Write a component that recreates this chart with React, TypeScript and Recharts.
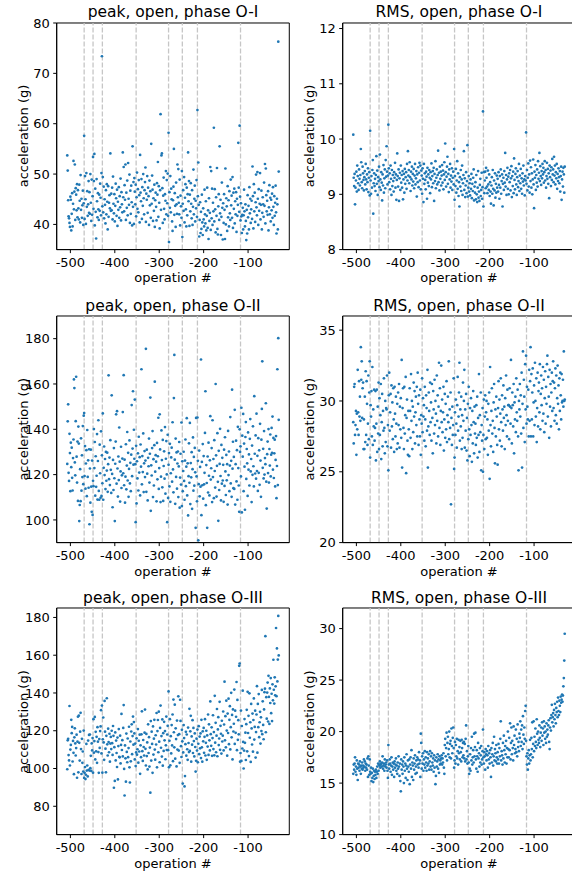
import React from 'react';
import { ScatterChart, Scatter, XAxis, YAxis, ReferenceLine, ReferenceArea } from 'recharts';

// operation numbers run consecutively from FIRST_OP, one reading per operation
const FIRST_OP = -507;
const X_DOMAIN = [-530.8, -7.2];
const X_TICKS = [-500, -400, -300, -200, -100];
// dashed markers (maintenance events)
const EVENT_OPS = [-469, -449, -428, -352, -279, -248, -214, -117];

const peakO1 = [
  53.7, 50.7, 44.8, 41.6, 41.2, 40.3, 39.5, 45.5, 44.9, 38.8, 42.1, 46.2, 39.6, 44.1, 52.6, 43.0, 46.5, 51.9, 40.9, 47.2, 45.9, 42.8, 48.0, 41.4, 46.8,
  43.2, 41.0, 47.9, 44.7, 40.4, 49.8, 42.9, 45.1, 41.3, 43.8, 46.7, 39.9, 44.2, 57.6, 41.1, 49.6, 45.0, 40.1, 50.2, 43.5, 46.6, 41.7, 44.0, 48.6, 42.3,
  46.4, 42.1, 50.0, 44.3, 40.7, 48.9, 41.9, 45.6, 53.4, 43.1, 48.6, 54.0, 39.8, 47.1, 42.5, 37.2, 49.0, 44.6, 41.4, 46.2, 43.0, 40.9, 45.9, 42.7, 48.1,
  45.3, 41.8, 50.2, 73.4, 43.6, 49.4, 42.4, 47.5, 41.2, 45.0, 43.9, 40.2, 46.8, 42.0, 48.0, 44.5, 39.0, 47.6, 41.5, 44.3, 45.8, 43.2, 54.1, 42.7, 46.1,
  42.8, 47.3, 41.0, 49.5, 44.1, 42.2, 46.0, 40.6, 43.7, 48.1, 45.2, 41.7, 46.9, 39.7, 44.5, 42.9, 47.4, 41.3, 45.6, 43.4, 49.1, 40.8, 46.4, 44.0, 42.4,
  54.3, 45.4, 51.4, 42.6, 47.8, 44.9, 51.9, 40.9, 46.3, 43.3, 48.7, 41.8, 52.2, 45.1, 43.9, 49.9, 40.3, 46.7, 42.1, 47.7, 44.4, 39.8, 55.5, 43.5, 48.4,
  40.1, 49.2, 46.5, 44.0, 47.9, 41.6, 45.4, 50.3, 43.1, 47.0, 42.4, 48.8, 45.8, 40.4, 53.8, 46.3, 44.6, 49.0, 41.1, 47.4, 43.7, 50.0, 45.2, 42.0, 46.8,
  48.4, 51.3, 40.5, 46.1, 44.9, 49.6, 42.3, 47.3, 45.6, 39.9, 48.7, 43.8, 46.6, 41.3, 56.0, 44.1, 49.7, 46.9, 40.7, 45.2, 42.7, 47.9, 39.5, 44.8, 46.3,
  43.5, 40.8, 48.2, 45.9, 52.4, 41.5, 47.6, 44.3, 39.2, 46.8, 61.9, 42.9, 53.7, 54.1, 47.2, 40.3, 45.7, 49.3, 43.1, 41.0, 46.0, 44.7, 50.6, 42.0, 48.8,
  44.2, 50.1, 41.7, 58.2, 36.5, 46.4, 43.3, 49.6, 42.4, 47.1, 45.0, 40.6, 38.7, 44.8, 47.5, 55.0, 41.9, 46.2, 43.7, 39.5, 48.3, 44.0, 42.1, 51.9, 45.4,
  51.0, 44.3, 42.0, 48.9, 39.8, 45.7, 43.6, 41.3, 50.6, 37.5, 44.1, 46.8, 42.7, 49.4, 40.4, 45.3, 48.0, 43.0, 39.6, 47.3, 41.8, 46.0, 54.3, 44.6, 48.6,
  39.7, 45.9, 42.6, 48.2, 44.1, 41.2, 46.8, 39.9, 43.5, 50.9, 42.0, 45.1, 47.7, 40.6, 44.7, 43.2, 48.8, 41.5, 62.7, 45.6, 52.3, 43.9, 37.6, 40.9, 44.4,
  38.3, 42.5, 39.1, 45.9, 40.4, 37.9, 43.2, 41.0, 39.6, 46.9, 42.0, 40.2, 44.6, 38.8, 41.7, 47.3, 39.3, 42.8, 37.1, 45.2, 40.7, 42.3, 51.4, 38.9, 50.6,
  41.2, 47.1, 39.9, 44.3, 42.6, 59.2, 40.6, 47.0, 43.0, 38.4, 45.4, 41.7, 51.2, 39.1, 38.0, 43.6, 46.0, 40.9, 55.5, 42.2, 44.9, 37.9, 41.5, 48.3, 43.3,
  37.0, 44.2, 40.3, 46.0, 42.9, 37.1, 51.1, 40.0, 45.2, 43.6, 38.7, 47.6, 41.4, 44.8, 39.6, 46.6, 42.2, 40.9, 48.9, 43.8, 45.7, 41.3, 49.4, 39.3, 46.3,
  43.1, 47.1, 40.2, 44.6, 42.0, 46.4, 38.5, 45.1, 41.7, 43.9, 56.2, 47.3, 42.5, 59.6, 45.5, 40.8, 44.2, 41.6, 38.3, 41.9, 43.3, 39.0, 41.8, 46.9, 42.6,
  39.6, 44.0, 40.7, 36.9, 42.9, 38.2, 45.8, 41.4, 43.7, 39.0, 47.4, 42.2, 45.1, 40.3, 43.0, 44.7, 41.1, 51.5, 45.6, 39.2, 48.0, 42.6, 46.3, 40.5, 44.4,
  49.9, 43.4, 41.8, 50.4, 45.1, 39.9, 47.0, 42.7, 44.1, 50.2, 41.0, 43.9, 46.7, 39.0, 42.3, 45.4, 44.0, 41.5, 48.3, 43.7, 52.0, 40.2, 51.1, 45.8, 42.6,
  44.7, 41.9, 46.6, 38.8, 43.4, 47.8, 42.0, 45.3, 40.6, 44.9, 42.8, 46.1, 41.3, 47.4, 43.5, 39.9, 45.6, 41.7, 44.3, 47.7, 42.4, 38.2, 45.1, 44.0, 39.0,
  76.3, 50.5,
];

const rmsO1 = [
  10.08, 9.30, 9.15, 9.37, 8.82, 9.12, 9.25, 9.41, 9.05, 9.52, 9.33, 9.20, 9.08, 9.45, 9.28, 9.16, 9.35, 9.82, 9.58, 9.22, 9.11, 9.50, 9.38, 9.26, 9.07,
  9.31, 9.42, 9.18, 9.55, 9.27, 9.09, 9.36, 9.22, 9.47, 9.04, 9.30, 9.40, 8.98, 10.15, 9.25, 9.01, 9.33, 9.12, 9.44, 9.62, 8.65, 9.20, 9.38, 9.15, 9.28,
  9.06, 9.35, 9.69, 9.19, 9.43, 8.99, 9.31, 9.24, 9.50, 9.13, 9.72, 9.27, 9.08, 9.40, 9.21, 8.89, 9.36, 9.16, 9.53, 9.03, 9.29, 9.45, 9.11, 9.62, 9.32,
  9.87, 9.41, 9.18, 9.34, 10.26, 9.47, 9.22, 9.38, 9.09, 9.52, 9.28, 8.99, 9.44, 9.15, 9.35, 9.24, 9.05, 9.40, 9.30, 9.57, 9.12, 9.36, 8.90, 9.26, 9.74,
  9.33, 9.14, 9.45, 8.88, 9.29, 9.39, 9.08, 9.52, 9.21, 9.35, 9.12, 9.42, 8.91, 9.27, 9.37, 9.03, 9.46, 9.19, 9.31, 9.40, 9.10, 9.55, 9.25, 9.78, 9.34,
  9.44, 9.20, 9.58, 9.31, 9.06, 9.41, 9.27, 9.50, 9.16, 9.37, 9.23, 9.46, 9.11, 9.34, 9.55, 9.18, 9.29, 9.42, 8.96, 9.36, 9.22, 9.49, 9.13, 9.39, 9.57,
  9.25, 9.52, 9.09, 9.43, 9.34, 9.01, 9.47, 9.28, 8.86, 9.55, 9.19, 9.38, 9.26, 9.09, 9.41, 9.32, 8.92, 9.48, 9.21, 9.36, 9.15, 9.44, 9.30, 9.02, 9.40,
  9.27, 9.56, 9.13, 9.33, 9.42, 9.20, 9.48, 8.88, 9.37, 9.24, 9.60, 9.11, 9.30, 9.45, 9.18, 9.35, 9.79, 9.22, 9.39, 9.07, 9.50, 9.28, 9.41, 9.16, 9.34,
  9.53, 9.21, 9.43, 9.09, 9.36, 9.58, 9.26, 9.92, 9.40, 9.14, 9.32, 9.50, 9.68, 9.19, 9.37, 9.04, 9.45, 9.27, 9.55, 9.12, 9.34, 9.23, 9.47, 9.08, 9.30,
  9.41, 9.18, 9.82, 8.90, 9.33, 9.15, 9.46, 9.03, 9.25, 9.60, 9.10, 9.38, 8.97, 9.22, 8.78, 9.31, 9.14, 9.44, 9.06, 9.27, 9.52, 8.99, 9.20, 9.35, 9.78,
  9.08, 9.29, 8.95, 9.16, 9.40, 9.02, 9.24, 9.89, 8.96, 9.12, 9.33, 9.05, 9.20, 8.98, 9.27, 9.10, 9.37, 8.93, 9.19, 9.06, 9.30, 9.45, 8.89, 9.14, 9.03,
  9.22, 8.91, 9.35, 9.00, 8.86, 9.12, 9.42, 8.94, 9.05, 8.88, 9.17, 9.28, 8.97, 9.08, 9.39, 8.92, 9.13, 10.50, 8.78, 9.40, 9.02, 9.25, 9.41, 9.11, 9.48,
  9.30, 9.14, 9.02, 9.43, 9.18, 9.08, 9.36, 8.97, 9.22, 9.05, 8.83, 9.16, 9.31, 9.01, 9.44, 9.10, 8.80, 9.25, 9.07, 9.38, 8.94, 9.19, 9.03, 9.34, 9.12,
  9.28, 9.05, 9.40, 9.17, 8.92, 9.33, 9.12, 9.45, 9.01, 9.24, 9.36, 8.78, 9.19, 9.30, 9.08, 9.42, 9.21, 9.75, 9.14, 9.35, 8.99, 9.27, 9.48, 9.10, 9.32,
  9.00, 9.38, 9.22, 9.44, 9.07, 9.29, 9.51, 8.95, 9.33, 9.15, 9.41, 9.02, 9.65, 9.26, 9.09, 9.37, 9.47, 9.18, 8.99, 9.31, 9.42, 9.13, 9.24, 9.55, 9.06,
  9.34, 9.20, 9.46, 9.10, 9.29, 9.01, 9.38, 9.23, 9.52, 9.16, 9.27, 8.98, 9.33, 9.25, 10.12, 9.19, 9.44, 9.07, 9.30, 9.56, 9.14, 9.36, 9.03, 9.61, 9.24,
  9.49, 9.12, 9.38, 9.00, 9.27, 9.63, 9.18, 8.75, 9.41, 9.30, 9.53, 9.08, 9.35, 9.21, 9.45, 9.14, 9.60, 9.28, 9.39, 9.75, 9.24, 9.51, 9.33, 9.17, 9.42,
  9.29, 9.55, 9.36, 9.48, 9.21, 9.40, 9.60, 9.25, 9.44, 9.12, 9.33, 9.57, 9.28, 9.46, 9.19, 9.38, 8.93, 9.52, 9.31, 9.43, 9.15, 9.49, 9.26, 9.64, 9.36,
  9.45, 9.22, 9.68, 9.34, 9.52, 9.18, 9.40, 9.29, 9.55, 9.10, 9.37, 9.24, 9.47, 9.31, 9.20, 9.42, 9.05, 9.33, 9.50, 8.90, 9.27, 9.41, 9.14, 9.48, 9.36,
  9.03, 9.50,
];

const peakO2 = [
  124.7, 143.5, 151.0, 120.8, 117.2, 138.0, 129.5, 112.7, 134.1, 123.3, 131.9, 118.6, 113.0, 127.3, 135.5, 162.0, 158.2, 125.4, 119.7, 143.6, 163.2, 127.9, 116.5, 134.6, 108.4,
  141.2, 133.7, 99.5, 106.6, 122.4, 108.3, 136.0, 112.9, 128.5, 118.9, 141.4, 115.8, 146.0, 147.2, 119.4, 132.6, 113.8, 124.9, 130.8, 110.5, 139.7, 119.0, 126.3, 114.2, 131.2,
  98.1, 122.7, 107.6, 131.0, 114.7, 103.6, 126.2, 102.2, 117.3, 114.9, 140.1, 122.9, 134.4, 110.7, 128.1, 114.6, 119.5, 137.9, 109.0, 126.0, 144.0, 112.8, 108.9, 133.2, 120.6,
  109.8, 139.1, 110.6, 128.5, 116.2, 147.0, 108.9, 123.0, 132.4, 119.8, 126.9, 113.6, 130.0, 117.3, 121.8, 129.7, 112.4, 124.6, 163.8, 118.0, 127.5, 115.4, 135.2, 122.1, 111.9,
  155.0, 120.3, 105.6, 126.5, 113.2, 131.7, 118.4, 99.5, 124.8, 134.6, 146.6, 116.0, 148.0, 122.7, 110.3, 128.0, 117.6, 140.8, 125.7, 108.1, 121.4, 132.3, 114.1, 119.7, 127.1,
  147.6, 120.6, 163.9, 115.3, 126.6, 107.6, 119.1, 133.4, 113.5, 124.0, 138.8, 117.4, 129.6, 110.2, 122.5, 135.1, 116.1, 125.2, 112.7, 128.8, 150.7, 119.3, 131.5, 156.8, 124.4,
  139.8, 127.0, 153.1, 124.6, 99.0, 132.7, 107.3, 125.9, 118.3, 129.4, 113.0, 136.7, 120.9, 127.7, 110.8, 133.3, 123.5, 166.5, 115.7, 128.2, 121.1, 138.2, 112.3, 125.0, 130.4,
  118.9, 126.2, 175.5, 112.4, 131.0, 120.4, 108.6, 127.4, 123.7, 135.9, 116.5, 129.2, 154.0, 104.0, 124.1, 119.6, 131.7, 139.2, 110.1, 126.8, 115.2, 133.0, 161.0, 121.3, 128.6,
  125.7, 108.2, 134.0, 117.9, 128.1, 145.1, 113.7, 122.9, 146.6, 131.1, 107.9, 119.1, 139.5, 126.4, 114.4, 135.3, 108.4, 123.8, 130.3, 118.2, 141.0, 111.6, 127.0, 134.8, 120.1,
  99.0, 137.6, 109.7, 124.3, 129.5, 114.8, 133.6, 108.0, 120.6, 127.6, 131.9, 116.9, 143.1, 122.3, 112.2, 153.8, 172.8, 126.6, 107.1, 135.9, 119.0, 129.8, 113.8, 124.9, 130.2,
  110.1, 123.6, 134.4, 105.4, 118.7, 129.2, 115.6, 143.0, 106.1, 125.9, 112.7, 121.6, 130.1, 117.2, 108.9, 126.2, 135.5, 114.9, 123.5, 144.9, 110.8, 125.0, 102.0, 119.3, 133.8,
  116.4, 142.8, 107.0, 125.1, 118.8, 129.9, 104.9, 122.4, 136.4, 112.9, 127.8, 115.1, 131.8, 121.0, 96.5, 145.0, 119.2, 108.2, 145.2, 126.1, 91.0, 115.8, 130.6, 110.4, 123.4,
  114.7, 170.8, 102.1, 125.6, 115.3, 133.5, 109.4, 128.2, 115.7, 120.8, 138.4, 156.8, 106.5, 124.2, 116.3, 96.5, 128.0, 112.1, 134.1, 119.5, 110.8, 126.3, 145.8, 117.8, 122.8,
  131.7, 107.9, 144.0, 118.9, 126.9, 109.6, 135.2, 121.6, 114.3, 160.0, 128.5, 110.3, 123.9, 138.3, 116.8, 99.6, 130.5, 113.2, 124.7, 140.2, 119.4, 108.6, 133.1, 116.0, 127.4,
  117.4, 124.3, 108.0, 131.0, 115.0, 136.5, 121.4, 111.0, 128.7, 117.5, 124.6, 106.8, 139.3, 119.8, 130.2, 112.7, 124.0, 145.4, 116.1, 126.1, 110.2, 157.5, 122.6, 134.5, 114.0,
  127.8, 113.7, 148.6, 106.8, 124.6, 135.0, 117.0, 130.8, 108.9, 141.1, 122.9, 115.2, 103.6, 140.0, 130.0, 132.5, 119.2, 149.5, 103.3, 137.2, 127.9, 146.8, 112.7, 133.7, 123.5,
  104.5, 136.6, 143.2, 118.1, 131.3, 125.0, 110.6, 138.6, 122.2, 128.9, 115.2, 135.8, 144.5, 121.4, 126.9, 107.9, 132.8, 119.9, 141.3, 123.7, 114.8, 154.6, 129.2, 120.5, 137.3,
  118.2, 146.9, 121.6, 128.3, 112.8, 136.1, 120.8, 130.7, 115.5, 142.4, 126.2, 110.2, 135.4, 149.0, 170.0, 123.0, 131.4, 118.3, 139.2, 120.0, 127.3, 124.6, 151.5, 116.9, 105.0,
  129.0, 134.6, 120.7, 140.1, 116.5, 131.3, 124.0, 137.7, 119.2, 128.8, 140.6, 129.6, 145.6, 122.2, 136.2, 118.5, 129.4, 135.4, 114.8, 126.5, 137.0, 109.6, 123.8, 166.5, 115.4,
  180.2, 144.2,
];

const rmsO2 = [
  28.5, 27.0, 31.0, 31.2, 27.6, 28.3, 29.3, 26.2, 29.1, 28.0, 32.2, 29.2, 27.6, 31.4, 28.9, 30.3, 28.6, 33.8, 31.5, 32.8, 28.8, 30.9, 31.3, 26.6, 28.7,
  26.6, 30.3, 27.1, 32.1, 27.6, 31.4, 29.8, 26.9, 28.4, 31.8, 27.3, 30.6, 32.8, 26.0, 29.7, 28.9, 30.7, 27.5, 32.4, 26.9, 29.4, 28.2, 30.8, 27.2, 28.1,
  30.7, 25.8, 28.4, 30.8, 26.4, 29.6, 27.7, 31.3, 26.6, 30.2, 27.6, 29.0, 31.2, 25.9, 28.5, 30.5, 26.8, 29.3, 27.9, 31.6, 28.1, 26.3, 30.0, 27.1, 29.5,
  29.4, 31.8, 26.8, 28.3, 25.1, 30.4, 32.0, 27.9, 29.2, 30.5, 26.7, 31.1, 28.2, 29.9, 27.3, 30.9, 28.7, 26.4, 31.0, 29.1, 27.5, 30.3, 28.4, 26.6, 29.8,
  27.0, 30.6, 28.3, 31.2, 26.7, 29.6, 28.0, 30.2, 27.4, 32.9, 25.3, 29.5, 30.9, 28.1, 26.6, 31.0, 27.7, 29.0, 31.7, 24.9, 28.8, 30.1, 27.2, 26.2, 29.3,
  28.0, 26.1, 30.9, 29.3, 27.4, 31.9, 28.6, 30.0, 26.6, 29.6, 27.8, 31.3, 28.9, 30.7, 27.0, 29.2, 30.3, 28.3, 31.0, 27.5, 32.0, 29.8, 26.9, 30.4, 28.7,
  27.5, 30.8, 26.2, 29.0, 28.4, 31.6, 27.8, 30.2, 28.9, 29.7, 27.2, 31.0, 28.7, 26.8, 30.4, 29.5, 27.9, 32.2, 25.3, 28.2, 30.6, 29.3, 27.6, 31.3, 28.5,
  29.9, 27.2, 31.2, 28.8, 26.3, 30.7, 29.4, 27.7, 31.5, 28.3, 30.0, 29.1, 27.0, 31.8, 28.6, 30.4, 27.5, 29.6, 32.7, 28.1, 30.9, 26.9, 29.3, 32.5, 28.5,
  30.1, 27.8, 29.2, 31.0, 26.5, 28.7, 30.5, 27.4, 29.8, 28.0, 31.4, 27.1, 29.0, 30.3, 28.5, 32.8, 27.3, 29.4, 28.1, 30.6, 22.7, 28.8, 26.9, 29.6, 27.6,
  28.3, 31.6, 25.2, 26.0, 29.2, 27.6, 30.1, 28.4, 26.7, 29.7, 31.7, 27.9, 28.9, 30.6, 32.7, 27.2, 29.4, 28.2, 30.3, 26.6, 29.0, 27.4, 31.3, 28.6, 30.0,
  32.2, 26.7, 29.4, 27.9, 30.5, 26.5, 28.8, 25.8, 29.8, 27.3, 31.0, 28.0, 26.1, 29.5, 27.6, 30.2, 28.3, 25.7, 29.3, 27.0, 30.7, 28.5, 26.3, 29.6, 27.7,
  28.4, 26.9, 29.7, 27.4, 30.3, 26.0, 28.8, 27.6, 31.9, 26.4, 29.0, 27.8, 30.6, 25.1, 28.3, 27.2, 29.5, 25.0, 27.6, 30.1, 26.6, 28.9, 30.4, 27.3, 29.2,
  30.0, 27.4, 28.7, 26.2, 29.8, 27.9, 30.6, 24.5, 32.4, 28.3, 26.8, 29.3, 30.9, 27.7, 28.6, 26.4, 29.9, 31.2, 28.1, 25.6, 29.4, 27.5, 30.3, 28.9, 26.9,
  25.5, 29.5, 31.4, 28.0, 30.1, 27.2, 29.1, 31.6, 28.5, 26.8, 30.4, 29.4, 27.9, 31.1, 28.8, 29.6, 26.6, 30.2, 28.3, 31.8, 29.0, 27.5, 30.8, 28.6, 29.7,
  29.7, 27.3, 30.9, 29.6, 28.4, 32.9, 29.5, 27.0, 30.6, 29.7, 28.2, 31.2, 26.3, 29.9, 28.7, 30.3, 27.8, 31.6, 29.2, 28.6, 30.8, 27.5, 25.1, 30.0, 29.4,
  31.2, 28.9, 30.4, 27.7, 32.0, 25.3, 29.8, 33.5, 28.1, 31.5, 30.3, 27.1, 32.6, 29.4, 33.2, 28.4, 31.0, 29.6, 28.7, 30.8, 27.5, 32.2, 28.6, 31.4, 33.8,
  27.5, 31.9, 28.7, 30.6, 32.3, 27.5, 29.9, 31.1, 28.3, 32.7, 30.0, 28.9, 31.6, 27.1, 29.5, 32.0, 28.2, 30.7, 31.3, 29.2, 32.6, 28.0, 30.5, 31.8, 29.7,
  30.9, 28.6, 32.4, 29.1, 31.5, 27.8, 30.2, 32.1, 28.4, 31.0, 29.8, 32.6, 33.2, 28.9, 31.7, 30.3, 27.4, 32.2, 29.6, 31.2, 28.2, 30.6, 32.0, 29.3, 31.4,
  32.8, 29.5, 31.3, 28.6, 30.9, 32.3, 29.0, 31.8, 28.4, 30.2, 32.5, 29.8, 31.1, 28.0, 31.6, 29.3, 32.0, 30.4, 28.7, 31.9, 29.9, 30.0, 31.5, 29.6, 33.5,
  30.0, 30.1,
];

const peakO3 = [
  99.6, 114.9, 115.7, 107.1, 104.3, 133.1, 101.6, 110.0, 112.5, 125.8, 118.7, 122.0, 103.7, 114.6, 108.3, 97.0, 116.5, 121.3, 113.3, 106.9, 110.8, 117.9, 95.1, 114.2, 127.4,
  98.0, 128.0, 113.6, 104.2, 119.5, 129.5, 110.3, 97.1, 115.7, 103.0, 109.0, 98.4, 120.1, 95.0, 97.7, 100.8, 94.4, 96.7, 113.0, 98.9, 101.6, 95.8, 114.8, 99.3, 117.8,
  98.9, 118.0, 100.2, 106.7, 98.7, 113.3, 109.6, 116.1, 97.8, 126.1, 108.4, 114.5, 127.3, 104.8, 119.4, 109.1, 116.8, 103.0, 121.9, 114.2, 108.7, 97.7, 115.6, 110.9, 119.8,
  122.3, 130.9, 108.0, 133.3, 97.8, 115.5, 127.0, 113.8, 104.6, 135.8, 119.5, 110.5, 98.0, 117.3, 137.2, 112.8, 106.9, 121.1, 114.0, 108.6, 118.4, 103.6, 113.2, 116.7, 110.3,
  120.0, 113.4, 107.2, 122.5, 117.3, 89.8, 111.3, 93.4, 119.1, 104.3, 114.8, 108.2, 100.8, 116.4, 94.2, 111.9, 120.9, 106.2, 105.9, 117.4, 102.7, 112.5, 128.9, 109.8, 115.0,
  106.4, 121.5, 133.6, 99.8, 85.7, 112.2, 105.4, 93.0, 118.5, 108.8, 103.3, 115.9, 106.0, 110.8, 122.1, 100.6, 92.6, 114.3, 103.8, 119.6, 123.4, 107.6, 117.2, 127.5, 112.6,
  124.6, 118.6, 104.8, 113.2, 101.3, 108.5, 116.0, 107.3, 110.2, 120.9, 103.1, 114.7, 109.0, 117.9, 97.2, 112.3, 106.0, 118.1, 130.3, 109.2, 104.0, 115.1, 111.4, 106.9, 119.0,
  131.2, 110.4, 101.6, 118.3, 106.6, 113.8, 99.5, 123.4, 108.2, 116.6, 101.0, 111.1, 87.2, 125.1, 104.2, 119.5, 113.0, 97.7, 122.3, 107.4, 115.8, 125.8, 110.0, 104.7, 117.6,
  112.7, 129.4, 100.6, 119.8, 125.7, 108.6, 130.1, 114.2, 103.3, 121.5, 133.3, 111.0, 117.2, 106.3, 126.0, 101.5, 118.7, 109.3, 124.7, 114.9, 119.8, 104.9, 112.3, 127.5, 109.8,
  118.0, 122.6, 109.7, 140.8, 100.7, 114.7, 126.1, 101.7, 117.1, 108.0, 123.0, 112.2, 128.6, 103.9, 136.5, 119.2, 111.2, 133.8, 105.2, 121.3, 115.6, 101.1, 125.4, 110.0, 117.7,
  138.2, 109.5, 118.2, 103.0, 136.4, 125.2, 111.8, 106.1, 120.5, 114.4, 92.0, 108.5, 123.0, 116.1, 90.5, 96.0, 112.9, 119.4, 106.8, 118.0, 110.2, 104.6, 121.7, 113.5, 108.7,
  131.6, 109.3, 119.7, 127.9, 103.6, 117.0, 112.6, 125.6, 108.2, 121.5, 114.5, 106.4, 118.6, 111.4, 98.4, 104.1, 115.8, 109.5, 120.6, 103.3, 113.1, 122.4, 107.6, 116.9, 110.7,
  118.6, 105.5, 125.8, 111.2, 103.6, 119.7, 114.4, 121.5, 108.3, 116.8, 126.1, 106.9, 113.6, 120.0, 104.6, 117.5, 111.6, 128.6, 107.2, 123.4, 114.9, 109.6, 135.5, 118.2, 112.0,
  121.8, 106.7, 116.1, 128.2, 110.3, 119.3, 107.0, 138.5, 113.7, 124.2, 108.6, 117.4, 131.5, 106.5, 120.7, 127.2, 112.4, 115.9, 135.3, 109.9, 122.6, 118.4, 107.9, 125.3, 114.3,
  117.4, 130.2, 109.6, 123.3, 146.0, 114.9, 127.7, 111.2, 135.9, 120.1, 106.8, 129.1, 118.8, 137.0, 112.9, 125.8, 133.0, 110.1, 121.9, 140.1, 116.5, 128.4, 104.8, 131.3, 119.6,
  123.7, 141.8, 113.0, 130.6, 118.9, 127.4, 145.8, 109.7, 136.3, 115.2, 125.6, 118.1, 154.4, 155.6, 103.6, 108.2, 130.7, 104.0, 122.5, 110.6, 141.2, 114.1, 100.0, 109.5, 126.2,
  113.6, 119.0, 104.5, 123.5, 131.1, 109.1, 140.6, 118.8, 127.9, 106.6, 139.8, 116.3, 124.5, 103.5, 134.2, 121.2, 112.7, 129.1, 108.9, 125.7, 137.1, 115.3, 122.0, 130.6, 105.8,
  119.3, 128.6, 143.6, 108.4, 134.2, 121.9, 139.4, 116.6, 124.5, 130.0, 113.2, 127.1, 119.8, 141.6, 118.2, 135.6, 123.1, 115.5, 131.3, 140.4, 142.3, 170.1, 119.2, 137.8, 126.4,
  140.2, 145.5, 124.9, 149.1, 137.9, 123.6, 142.4, 134.7, 147.9, 129.3, 139.6, 125.1, 144.6, 136.1, 157.6, 141.7, 134.4, 148.3, 138.8, 143.5, 174.4, 138.3, 163.6, 146.1, 157.7,
  180.8, 159.9,
];

const rmsO3 = [
  15.9, 16.8, 16.3, 16.9, 17.5, 16.1, 16.6, 15.8, 17.2, 16.4, 15.3, 16.9, 16.5, 16.8, 16.2, 17.1, 16.6, 15.9, 16.7, 16.4, 17.0, 16.3, 16.7, 16.5, 17.3,
  16.6, 17.1, 16.2, 16.9, 16.5, 16.8, 16.3, 17.4, 15.6, 17.6, 16.7, 15.8, 17.3, 16.1, 15.9, 16.5, 15.2, 16.0, 15.5, 16.4, 15.1, 15.7, 16.2, 15.4, 16.1,
  15.8, 16.3, 15.5, 16.1, 16.6, 15.9, 16.9, 16.2, 16.8, 16.7, 17.1, 16.5, 16.8, 16.9, 16.6, 17.0, 17.6, 16.4, 16.7, 16.9, 16.2, 17.3, 16.6, 16.8, 17.0,
  16.5, 17.2, 16.2, 15.5, 18.7, 16.8, 16.4, 17.3, 16.9, 16.1, 16.7, 17.5, 15.8, 16.6, 17.0, 16.3, 16.9, 15.6, 17.1, 16.5, 16.8, 17.4, 16.2, 16.7, 15.9,
  17.0, 16.4, 17.6, 16.6, 15.7, 16.9, 15.2, 14.2, 17.3, 16.3, 16.8, 15.9, 17.1, 16.6, 15.0, 17.5, 16.2, 16.9, 15.5, 16.7, 17.8, 16.4, 15.3, 17.2, 16.6,
  16.1, 17.3, 14.9, 16.8, 17.5, 16.4, 18.2, 15.6, 17.0, 16.7, 15.3, 17.4, 16.3, 16.9, 17.7, 15.9, 16.6, 17.2, 16.0, 17.5, 16.8, 17.3, 16.5, 18.0, 16.9,
  17.2, 15.6, 19.8, 18.9, 16.4, 17.6, 16.9, 17.9, 16.2, 17.3, 16.8, 18.1, 16.5, 17.5, 17.0, 16.2, 18.0, 16.7, 17.4, 16.9, 17.8, 16.3, 17.1, 18.1, 16.6,
  17.6, 16.3, 17.9, 17.0, 16.7, 17.4, 16.1, 17.7, 16.5, 17.2, 14.9, 15.7, 17.5, 16.6, 17.1, 17.8, 16.4, 17.3, 16.0, 17.6, 16.8, 17.2, 16.9, 17.4, 17.7,
  16.8, 17.4, 17.0, 17.9, 16.5, 15.9, 18.7, 19.3, 17.6, 18.4, 19.9, 17.2, 18.9, 19.5, 17.8, 18.3, 20.0, 17.5, 18.8, 19.1, 17.4, 20.3, 18.6, 17.9, 19.4,
  20.4, 18.4, 16.5, 17.2, 19.0, 16.9, 18.7, 17.6, 19.3, 17.4, 18.1, 16.8, 19.2, 17.9, 18.5, 17.3, 19.1, 18.0, 17.1, 19.2, 18.4, 17.5, 18.9, 17.7, 19.0,
  17.4, 18.8, 17.1, 19.3, 20.6, 17.3, 18.1, 16.9, 17.6, 18.6, 17.0, 15.9, 16.4, 17.8, 16.2, 18.4, 17.2, 19.5, 16.8, 17.5, 18.2, 17.0, 19.8, 17.6, 18.5,
  19.9, 17.3, 16.4, 18.2, 17.6, 16.1, 18.9, 17.4, 17.9, 16.6, 18.4, 17.0, 17.7, 18.6, 16.8, 17.3, 18.1, 20.2, 17.5, 16.9, 18.0, 17.6, 16.3, 18.3, 17.8,
  17.2, 18.1, 17.7, 16.5, 18.6, 17.3, 17.9, 16.9, 18.2, 17.5, 15.6, 18.4, 17.0, 17.8, 18.9, 16.7, 17.6, 19.5, 17.2, 18.3, 17.9, 17.1, 18.7, 17.5, 16.9,
  18.0, 17.3, 18.8, 16.9, 18.4, 17.6, 19.3, 21.0, 17.2, 18.1, 17.7, 16.8, 18.9, 17.4, 19.6, 18.2, 17.0, 18.6, 17.8, 19.1, 16.9, 18.4, 17.5, 20.0, 18.3,
  17.5, 19.4, 18.2, 20.8, 17.3, 18.9, 20.4, 17.8, 19.1, 18.4, 17.2, 20.5, 18.7, 19.6, 17.9, 18.3, 20.2, 18.0, 19.3, 17.6, 20.7, 18.5, 19.0, 18.1, 19.8,
  19.4, 21.0, 18.6, 20.2, 19.0, 20.6, 18.3, 21.5, 19.7, 18.8, 20.4, 19.3, 22.0, 22.5, 19.1, 17.6, 16.8, 17.9, 16.3, 17.4, 18.2, 16.9, 17.7, 19.2, 17.2,
  17.8, 19.4, 18.3, 20.9, 17.5, 18.8, 21.0, 18.1, 19.5, 18.6, 20.3, 19.0, 18.4, 21.2, 19.8, 18.7, 20.0, 19.2, 18.9, 20.6, 19.4, 18.5, 19.9, 20.4, 19.1,
  20.9, 19.6, 20.3, 18.7, 21.0, 19.9, 20.5, 19.3, 20.0, 18.9, 20.8, 19.5, 20.2, 19.7, 20.6, 21.1, 19.0, 18.3, 20.4, 21.3, 20.1, 21.6, 22.6, 20.9, 21.4,
  21.8, 20.5, 22.1, 21.2, 22.7, 21.6, 20.8, 22.3, 21.9, 22.9, 21.4, 23.3, 22.0, 21.6, 23.0, 22.5, 21.9, 23.4, 22.8, 23.1, 23.6, 22.9, 23.5, 24.4, 25.2,
  26.9, 29.5,
];

const BLUE = '#1f77b4';
const FONT = "'DejaVu Sans', sans-serif";

const PLOT_W = 232.6;
const PLOT_H = 226.6;
const Y_AXIS_W = 56.7;
const COL_LEFT = [56.7, 342.7];
const ROW_TOP = [22.7, 316, 608.3];
const M_TOP = 20;
const M_RIGHT = 4;
const X_AXIS_H = 34;

const panels = [
  { title: 'peak, open, phase O-I', values: peakO1, yDomain: [35, 80], yTicks: [40, 50, 60, 70, 80], col: 0, row: 0 },
  { title: 'RMS, open, phase O-I', values: rmsO1, yDomain: [8, 12.1], yTicks: [8, 9, 10, 11, 12], col: 1, row: 0 },
  { title: 'peak, open, phase O-II', values: peakO2, yDomain: [90, 190], yTicks: [100, 120, 140, 160, 180], col: 0, row: 1 },
  { title: 'RMS, open, phase O-II', values: rmsO2, yDomain: [20, 36], yTicks: [20, 25, 30, 35], col: 1, row: 1 },
  { title: 'peak, open, phase O-III', values: peakO3, yDomain: [65, 185], yTicks: [80, 100, 120, 140, 160, 180], col: 0, row: 2 },
  { title: 'RMS, open, phase O-III', values: rmsO3, yDomain: [10, 32], yTicks: [10, 15, 20, 25, 30], col: 1, row: 2 },
];

const Dot = (props: any) => <circle cx={props.cx} cy={props.cy} r={1.35} fill={BLUE} />;

const tickStyle = { fontSize: 13, fill: '#000', fontFamily: FONT };

function Panel({ values, yDomain, yTicks, col, row }: any) {
  const data = values.map((y: number, i: number) => ({ op: FIRST_OP + i, y }));
  const left = COL_LEFT[col] - Y_AXIS_W;
  const top = ROW_TOP[row] - M_TOP;
  return (
    <div style={{ position: 'absolute', left, top }}>
      <ScatterChart
        width={Y_AXIS_W + PLOT_W + M_RIGHT}
        height={M_TOP + PLOT_H + X_AXIS_H}
        margin={{ top: M_TOP, right: M_RIGHT, bottom: 0, left: 0 }}
      >
        <XAxis
          type="number"
          dataKey="op"
          domain={X_DOMAIN}
          ticks={X_TICKS}
          interval={0}
          allowDataOverflow
          height={X_AXIS_H}
          tickSize={3.5}
          tickMargin={5}
          tick={tickStyle}
          stroke="#000"
        />
        <YAxis
          type="number"
          dataKey="y"
          domain={yDomain}
          ticks={yTicks}
          interval={0}
          allowDataOverflow
          width={Y_AXIS_W}
          tickSize={3.5}
          tickMargin={3.5}
          tick={tickStyle}
          stroke="#000"
        />
        {EVENT_OPS.map((x) => (
          <ReferenceLine key={x} x={x} stroke="#c6c6c6" strokeWidth={1.3} strokeDasharray="5 2" />
        ))}
        <Scatter data={data} shape={Dot} fill={BLUE} isAnimationActive={false} />
        <ReferenceArea
          x1={X_DOMAIN[0]}
          x2={X_DOMAIN[1]}
          y1={yDomain[0]}
          y2={yDomain[1]}
          fill="none"
          fillOpacity={0}
          stroke="#000"
          strokeWidth={1}
          ifOverflow="visible"
        />
      </ScatterChart>
    </div>
  );
}

export default function App() {
  return (
    <div style={{ position: 'absolute', left: 0, top: 0, width: 572, height: 871, background: '#fff', overflow: 'hidden' }}>
      {panels.map((p) => (
        <Panel key={p.title} {...p} />
      ))}
      <svg width={572} height={871} style={{ position: 'absolute', left: 0, top: 0, pointerEvents: 'none' }}>
        {panels.map((p) => {
          const cx = COL_LEFT[p.col] + PLOT_W / 2;
          const top = ROW_TOP[p.row];
          const ylx = COL_LEFT[p.col] - Y_AXIS_W + 28.3;
          const cy = top + PLOT_H / 2;
          return (
            <g key={p.title} fontFamily={FONT} fill="#000">
              <text x={cx} y={top - 5.5} textAnchor="middle" fontSize={15.5}>{p.title}</text>
              <text x={cx} y={top + PLOT_H + 33} textAnchor="middle" fontSize={13}>operation #</text>
              <text x={ylx} y={cy} textAnchor="middle" fontSize={13} transform={`rotate(-90, ${ylx}, ${cy})`}>
                acceleration (g)
              </text>
            </g>
          );
        })}
      </svg>
    </div>
  );
}
